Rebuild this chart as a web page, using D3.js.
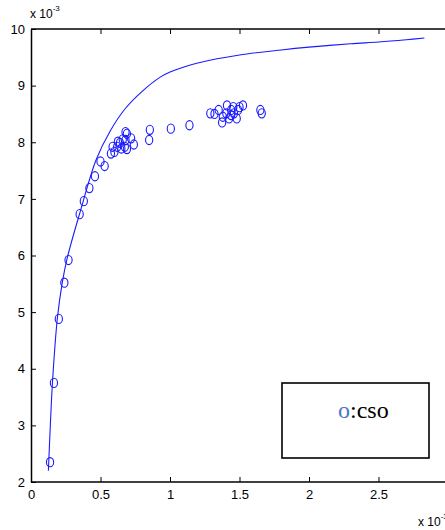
<!DOCTYPE html>
<html>
<head>
<meta charset="utf-8">
<script src="https://cdn.jsdelivr.net/npm/d3@7"></script>
<style>
  body { margin: 0; background: #fff; }
</style>
</head>
<body>
<div id="chart"></div>
<script>
// fitted curve (x in 1e-3 units, y in 1e-3 units)
const curveX = [0.125, 0.14, 0.155, 0.19, 0.225, 0.26, 0.35, 0.47, 0.57, 0.68, 0.80, 0.93, 1.0, 1.1, 1.2, 1.5, 1.8, 2.0, 2.3, 2.5, 2.7, 2.83];
const curveY = [2.2, 3.05, 3.78, 4.9, 5.52, 5.95, 6.74, 7.7, 8.2, 8.6, 8.9, 9.15, 9.24, 9.33, 9.40, 9.54, 9.63, 9.68, 9.74, 9.77, 9.81, 9.84];

// measured points (cso)
const ptsX = [0.137, 0.165, 0.20, 0.24, 0.27, 0.35, 0.38, 0.42, 0.46, 0.50, 0.53, 0.575, 0.60, 0.587, 0.62, 0.64, 0.65, 0.675, 0.68, 0.68, 0.69, 0.69, 0.72, 0.74, 0.625, 0.66, 0.855, 0.85, 1.006, 1.14, 1.29, 1.32, 1.35, 1.38, 1.375, 1.41, 1.405, 1.425, 1.44, 1.455, 1.48, 1.49, 1.50, 1.525, 1.46, 1.44, 1.65, 1.66];
const ptsY = [2.35, 3.75, 4.88, 5.52, 5.92, 6.73, 6.96, 7.19, 7.40, 7.66, 7.58, 7.80, 7.83, 7.92, 7.92, 7.99, 7.89, 7.92, 8.04, 8.18, 8.15, 7.88, 8.07, 7.96, 8.01, 8.05, 8.22, 8.04, 8.24, 8.30, 8.51, 8.50, 8.57, 8.45, 8.35, 8.65, 8.51, 8.42, 8.57, 8.62, 8.42, 8.57, 8.62, 8.65, 8.51, 8.48, 8.57, 8.51];

const xTicks = [0, 0.5, 1, 1.5, 2, 2.5];
const yTicks = [2, 3, 4, 5, 6, 7, 8, 9, 10];
const legendLabel = ":cso";

const sans = "Liberation Sans, Arial, sans-serif";
const serif = "Liberation Serif, Times New Roman, serif";

const W = 445, H = 530;
const svg = d3.select("#chart").append("svg")
  .attr("width", W).attr("height", H);

const x = d3.scaleLinear().domain([0, 3]).range([31, 448]);
const y = d3.scaleLinear().domain([2, 10]).range([482, 29]);

// curve
const curve = d3.zip(curveX, curveY);
svg.append("path")
  .datum(curve)
  .attr("fill", "none")
  .attr("stroke", "#1a1aff")
  .attr("stroke-width", 1.1)
  .attr("d", d3.line().x(d => x(d[0])).y(d => y(d[1])).curve(d3.curveCatmullRom));

// markers (ellipses, like the stretched matlab 'o')
svg.append("g").selectAll("ellipse")
  .data(d3.zip(ptsX, ptsY))
  .enter().append("ellipse")
  .attr("cx", d => x(d[0]))
  .attr("cy", d => y(d[1]))
  .attr("rx", 3.6)
  .attr("ry", 4.6)
  .attr("fill", "none")
  .attr("stroke", "#1a1aff")
  .attr("stroke-width", 1.1);

// axes (ticks inside, like matlab)
const xAxis = svg.append("g")
  .attr("transform", `translate(0,${y(2)})`)
  .call(d3.axisBottom(x).tickValues(xTicks).tickSizeInner(-5).tickSizeOuter(0).tickPadding(8).tickFormat(d3.format("")));
const yAxis = svg.append("g")
  .attr("transform", `translate(${x(0)},0)`)
  .call(d3.axisLeft(y).tickValues(yTicks).tickSizeInner(-5).tickSizeOuter(0).tickPadding(6).tickFormat(d3.format("")));
// top box line with mirrored ticks
const topAxis = svg.append("g")
  .attr("transform", `translate(0,${y(10)})`)
  .call(d3.axisTop(x).tickValues(xTicks.slice(1)).tickSizeInner(-5).tickSizeOuter(0).tickFormat(""));

[xAxis, yAxis, topAxis].forEach(a => {
  a.attr("font-family", sans).attr("font-size", 13);
  a.select(".domain").attr("stroke", "#000").attr("stroke-width", 1.5);
  a.selectAll(".tick line").attr("stroke", "#000");
  a.selectAll(".tick text").attr("fill", "#000");
});
topAxis.select(".domain").attr("d", `M${x(0)},0H${W}`);
xAxis.select(".domain").attr("d", `M${x(0)},0H${W}`);

// exponent labels
const expTop = svg.append("text").attr("x", 30).attr("y", 18)
  .attr("font-family", sans).attr("font-size", 12);
expTop.append("tspan").text("x 10");
expTop.append("tspan").attr("dy", -7).attr("font-size", 8).text("-3");

// bottom one is cut by the page edge in the original as well
const expBot = svg.append("text").attr("x", 418).attr("y", 526)
  .attr("font-family", sans).attr("font-size", 12);
expBot.append("tspan").text("x 10");
expBot.append("tspan").attr("dy", -7).attr("font-size", 8).text("-3");

// legend box
svg.append("rect")
  .attr("x", 282).attr("y", 383)
  .attr("width", 147).attr("height", 75)
  .attr("fill", "#fff").attr("stroke", "#000").attr("stroke-width", 1.6);
const leg = svg.append("text")
  .attr("x", 338).attr("y", 418)
  .attr("font-family", serif)
  .attr("font-size", 24);
leg.append("tspan").attr("fill", "#4a78c8").text("o");
leg.append("tspan").attr("fill", "#000").text(legendLabel);
</script>
</body>
</html>
